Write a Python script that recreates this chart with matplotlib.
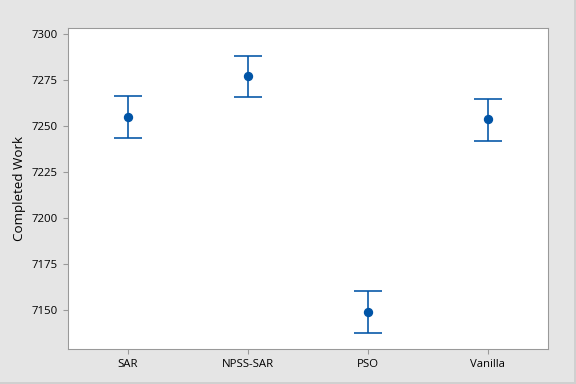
import matplotlib.pyplot as plt

# Interval plot data
methods = ['SAR', 'NPSS-SAR', 'PSO', 'Vanilla']
means = [7254.9, 7277.2, 7148.9, 7253.8]
upper = [7266.3, 7288.0, 7160.3, 7264.7]
lower = [7243.5, 7265.8, 7137.5, 7241.8]

plt.rcParams['font.family'] = ['Open Sans', 'DejaVu Sans']

fig = plt.figure(figsize=(6, 4), dpi=96, facecolor='#e5e5e5')
ax = fig.add_axes([0.118, 0.091, 0.833, 0.836])

xs = range(1, len(methods) + 1)
err = [[m - lo for m, lo in zip(means, lower)], [up - m for m, up in zip(means, upper)]]
ax.errorbar(xs, means, yerr=err, fmt='o', color='#0054a6', ecolor='#0054a6',
            markersize=6, elinewidth=1.2, capsize=10.5, capthick=1.2)

ax.set_xlim(0.5, 4.5)
ax.set_ylim(7128.8, 7303.3)
ax.set_xticks(list(xs))
ax.set_xticklabels(methods)
ax.set_yticks([7150, 7175, 7200, 7225, 7250, 7275, 7300])
ax.set_ylabel('Completed Work', fontsize=10)

for s in ax.spines.values():
    s.set_color('#999999')
ax.tick_params(colors='#999999', labelcolor='black', labelsize=8.5, length=4)

# light frame on the right and bottom edges of the figure
fig.add_artist(plt.Line2D([0.9985, 0.9985], [0, 1], color='#d0d0d0', lw=1.5, transform=fig.transFigure))
fig.add_artist(plt.Line2D([0, 1], [0.002, 0.002], color='#d0d0d0', lw=1.5, transform=fig.transFigure))

fig.savefig('out.png', dpi=96, facecolor=fig.get_facecolor())
